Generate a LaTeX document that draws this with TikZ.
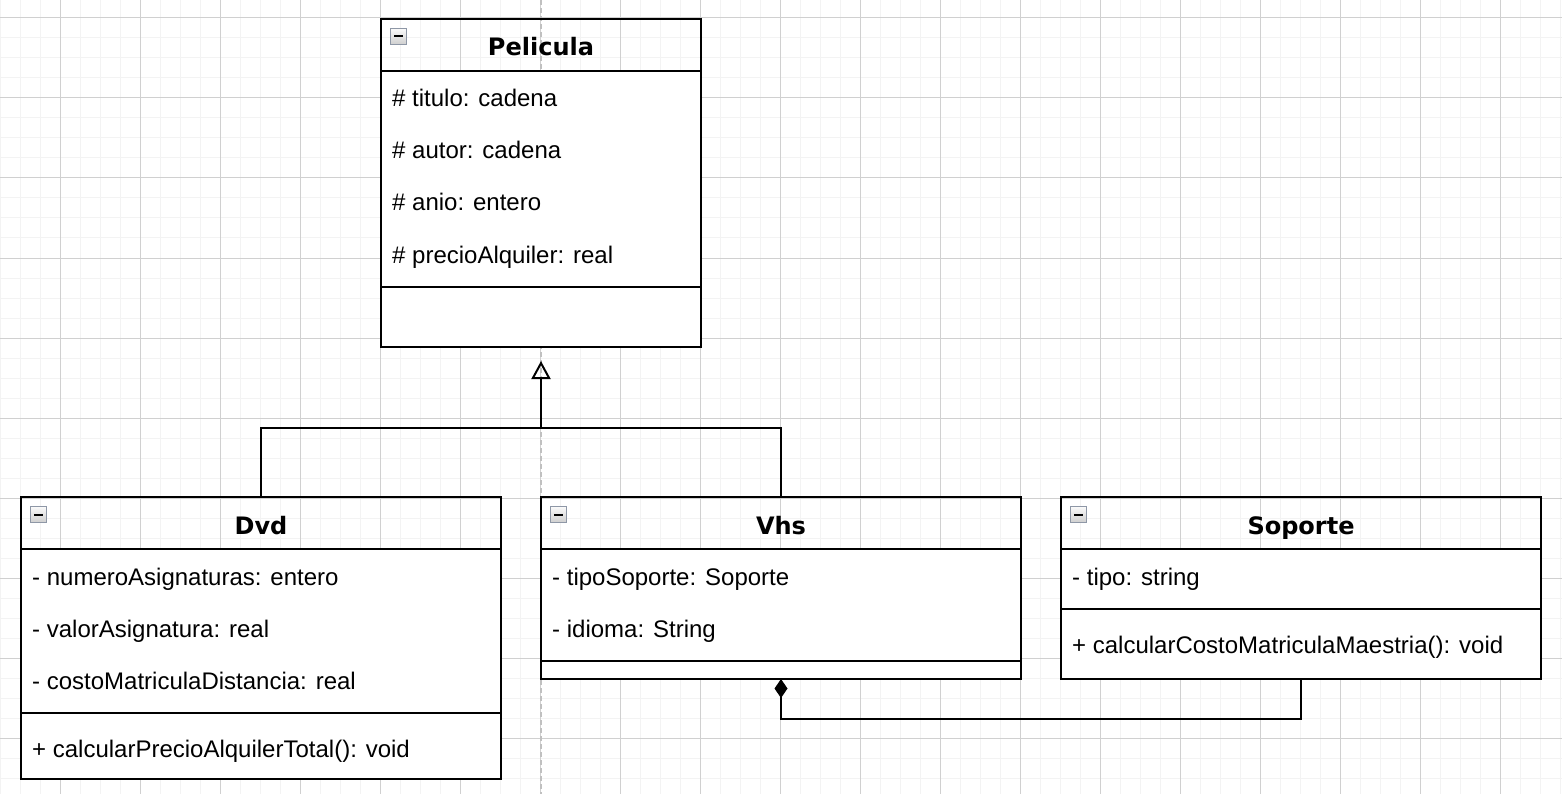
\documentclass[tikz,border=0pt]{standalone}
\usepackage{fontspec}
\setmainfont{Liberation Sans}
\newfontfamily\titlefont{DejaVu Sans}
\usetikzlibrary{arrows.meta,shadings}
\definecolor{minorgrid}{HTML}{F3F3F3}
\definecolor{majorgrid}{HTML}{D0D0D0}
\definecolor{guide}{HTML}{C0C0C0}
\definecolor{iconborder}{HTML}{8E97A6}
\tikzset{
  minorline/.style={draw=minorgrid, line width=1pt},
  majorline/.style={draw=majorgrid, line width=1pt},
  classbox/.style={draw=black, line width=2pt, rectangle, inner sep=0pt, outer sep=0pt, anchor=north west},
  sepline/.style={draw=black, line width=2pt},
  bodyfill/.style={fill=white},
  titletext/.style={font=\titlefont\bfseries\fontsize{24pt}{28pt}\selectfont, inner sep=0pt, anchor=base},
  attrtext/.style={font=\fontsize{24pt}{28pt}\selectfont, inner sep=0pt, anchor=base west},
  minusicon/.style={rectangle, draw=iconborder, line width=1.5pt, minimum size=16pt, inner sep=0pt,
    top color=white!96!gray, bottom color=gray!38,
    path picture={\draw[black, line width=2pt] ([xshift=-4.5pt]path picture bounding box.center) -- ([xshift=4.5pt]path picture bounding box.center);}},
  conn/.style={draw=black, line width=2pt},
  guideline/.style={draw=guide, line width=1.5pt, dash pattern=on 5pt off 3pt},
}
\begin{document}
\begin{tikzpicture}[x=1pt,y=-1pt]
\useasboundingbox (0,0) rectangle (1562,794);
\fill[white] (0,0) rectangle (1562,794);
% grid
\foreach \x in {0,20,...,1560} \draw[minorline] (\x,0) -- (\x,794);
\foreach \y in {-2,18,...,794} \draw[minorline] (0,\y) -- (1562,\y);
\foreach \x in {60,140,...,1540} \draw[majorline] (\x,0) -- (\x,794);
\foreach \y in {18,98,...,794} \draw[majorline] (0,\y) -- (1562,\y);
% guide
\draw[guideline] (541,0) -- (541,794);

% body fills
\fill[bodyfill] (381,71) rectangle (701,347);
\fill[bodyfill] (21,549) rectangle (501,779);
\fill[bodyfill] (541,549) rectangle (1021,679);
\fill[bodyfill] (1061,549) rectangle (1541,679);

% Pelicula
\node[classbox, minimum width=320pt, minimum height=328pt] (pel) at (381,19) {};
\draw[sepline] (381,71) -- (701,71);
\draw[sepline] (381,287) -- (701,287);
\node[minusicon] (pelicon) at (398.5,36.5) {};
\node[titletext] (peltitle) at (541,56) {Pelicula};
\node[attrtext] (pela1) at (392,107) {\# titulo: cadena};
\node[attrtext] (pela2) at (392,159) {\# autor: cadena};
\node[attrtext] (pela3) at (392,211) {\# anio: entero};
\node[attrtext] (pela4) at (392,263) {\# precioAlquiler: real};

% Dvd
\node[classbox, minimum width=480pt, minimum height=282pt] (dvd) at (21,497) {};
\draw[sepline] (21,549) -- (501,549);
\draw[sepline] (21,713) -- (501,713);
\node[minusicon] (dvdicon) at (38.5,514.5) {};
\node[titletext] (dvdtitle) at (261,534) {Dvd};
\node[attrtext] (dvda1) at (32,585) {- numeroAsignaturas: entero};
\node[attrtext] (dvda2) at (32,637) {- valorAsignatura: real};
\node[attrtext] (dvda3) at (32,689) {- costoMatriculaDistancia: real};
\node[attrtext] (dvdm1) at (32,757) {+ calcularPrecioAlquilerTotal(): void};

% Vhs
\node[classbox, minimum width=480pt, minimum height=182pt] (vhs) at (541,497) {};
\draw[sepline] (541,549) -- (1021,549);
\draw[sepline] (541,661) -- (1021,661);
\node[minusicon] (vhsicon) at (558.5,514.5) {};
\node[titletext] (vhstitle) at (781,534) {Vhs};
\node[attrtext] (vhsa1) at (552,585) {- tipoSoporte: Soporte};
\node[attrtext] (vhsa2) at (552,637) {- idioma: String};

% Soporte
\node[classbox, minimum width=480pt, minimum height=182pt] (sop) at (1061,497) {};
\draw[sepline] (1061,549) -- (1541,549);
\draw[sepline] (1061,609) -- (1541,609);
\node[minusicon] (sopicon) at (1078.5,514.5) {};
\node[titletext] (soptitle) at (1301,534) {Soporte};
\node[attrtext] (sopa1) at (1072,585) {- tipo: string};
\node[attrtext] (sopm1) at (1072,653) {+ calcularCostoMatriculaMaestria(): void};

% inheritance
\coordinate (junc) at (541,428);
\coordinate (peltip) at (541,361);
\draw[conn] (dvd.north) |- (junc);
\draw[conn] (vhs.north) |- (junc);
\draw[conn, -{Triangle[open, length=18pt, width=19pt]}] (junc) -- (peltip);

% composition
\coordinate (compbend) at (781,719);
\draw[conn, {Diamond[length=19pt, width=13pt]}-] (vhs.south) |- (compbend) -| (sop.south);
\end{tikzpicture}
\end{document}
